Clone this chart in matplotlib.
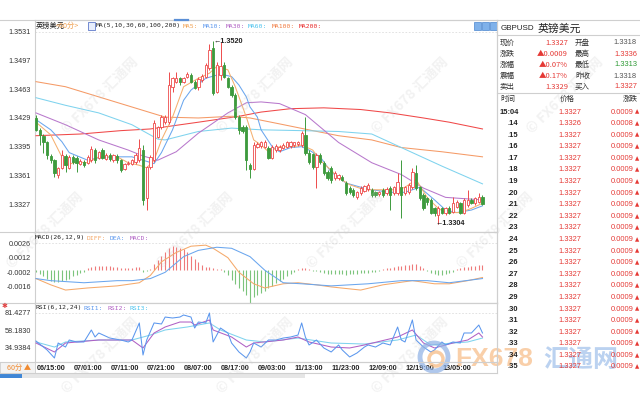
import matplotlib
matplotlib.use('Agg')
import matplotlib.pyplot as plt
from matplotlib.patches import Rectangle, Ellipse
from matplotlib.lines import Line2D

# ---------------- data ----------------
opens = [1.3429,1.3415,1.3408,1.3400,1.3384,1.3379,1.3362,1.3370,1.3384,1.3370,
         1.3383,1.3382,1.3375,1.3377,1.3376,1.3379,1.3391,1.3382,1.3391,1.3381,
         1.3385,1.3379,1.3384,1.3379,1.3369,1.3375,1.3375,1.3377,1.3379,1.3391,
         1.3334,1.3371,1.3379,1.3407,1.3418,1.3424,1.3424,1.3466,1.3472,1.3476,
         1.3472,1.3478,1.3480,1.3472,1.3466,1.3474,1.3478,1.3488,1.3512,1.3460,
         1.3480,1.3492,1.3476,1.3466,1.3456,1.3430,1.3418,1.3418,1.3373,1.3369,
         1.3395,1.3396,1.3395,1.3394,1.3382,1.3391,1.3391,1.3394,1.3395,1.3396,
         1.3397,1.3398,1.3397,1.3409,1.3388,1.3386,1.3371,1.3385,1.3376,1.3365,
         1.3370,1.3358,1.3358,1.3359,1.3352,1.3346,1.3344,1.3335,1.3340,1.3343,
         1.3345,1.3344,1.3341,1.3339,1.3344,1.3340,1.3346,1.3340,1.3340,1.3347,
         1.3340,1.3341,1.3347,1.3364,1.3347,1.3338,1.3334,1.3332,1.3322,1.3314,
         1.3322,1.3317,1.3323,1.3318,1.3324,1.3328,1.3317,1.3326,1.3332,1.3328,
         1.3330,1.3336]
highs = [1.3432,1.3417,1.3410,1.3402,1.3386,1.3381,1.3371,1.3391,1.3386,1.3385,
         1.3385,1.3384,1.3380,1.3379,1.3385,1.3396,1.3393,1.3390,1.3393,1.3387,
         1.3387,1.3386,1.3386,1.3381,1.3376,1.3378,1.3381,1.3387,1.3404,1.3397,
         1.3372,1.3385,1.3427,1.3420,1.3432,1.3432,1.3484,1.3478,1.3484,1.3478,
         1.3478,1.3484,1.3482,1.3474,1.3477,1.3481,1.3494,1.3516,1.3520,1.3495,
         1.3519,1.3495,1.3478,1.3468,1.3458,1.3432,1.3421,1.3421,1.3376,1.3400,
         1.3400,1.3402,1.3403,1.3396,1.3397,1.3398,1.3397,1.3399,1.3402,1.3402,
         1.3401,1.3402,1.3413,1.3430,1.3391,1.3388,1.3387,1.3387,1.3378,1.3367,
         1.3372,1.3366,1.3363,1.3361,1.3354,1.3348,1.3346,1.3343,1.3348,1.3350,
         1.3352,1.3346,1.3343,1.3342,1.3346,1.3347,1.3348,1.3349,1.3364,1.3379,
         1.3349,1.3352,1.3370,1.3373,1.3349,1.3340,1.3336,1.3334,1.3324,1.3325,
         1.3324,1.3324,1.3325,1.3335,1.3332,1.3330,1.3334,1.3344,1.3334,1.3336,
         1.3340,1.3338]
lows = [1.3413,1.3397,1.3388,1.3381,1.3376,1.3359,1.3358,1.3368,1.3365,1.3368,
        1.3374,1.3365,1.3373,1.3371,1.3374,1.3377,1.3376,1.3380,1.3380,1.3379,
        1.3378,1.3377,1.3376,1.3365,1.3367,1.3373,1.3373,1.3375,1.3377,1.3326,
        1.3320,1.3369,1.3377,1.3405,1.3416,1.3422,1.3422,1.3460,1.3470,1.3468,
        1.3470,1.3476,1.3470,1.3463,1.3462,1.3472,1.3476,1.3486,1.3456,1.3458,
        1.3474,1.3476,1.3464,1.3454,1.3428,1.3410,1.3411,1.3367,1.3358,1.3367,
        1.3393,1.3394,1.3393,1.3380,1.3380,1.3389,1.3389,1.3392,1.3393,1.3394,
        1.3395,1.3396,1.3395,1.3385,1.3375,1.3368,1.3346,1.3375,1.3362,1.3356,
        1.3352,1.3356,1.3356,1.3354,1.3338,1.3339,1.3336,1.3333,1.3338,1.3341,
        1.3343,1.3336,1.3336,1.3337,1.3336,1.3338,1.3320,1.3338,1.3338,1.3311,
        1.3338,1.3339,1.3345,1.3344,1.3332,1.3320,1.3326,1.3315,1.3313,1.3304,
        1.3315,1.3314,1.3315,1.3316,1.3322,1.3315,1.3315,1.3324,1.3327,1.3326,
        1.3328,1.3326]
closes = [1.3415,1.3409,1.3401,1.3385,1.3379,1.3364,1.3370,1.3385,1.3373,1.3383,
          1.3377,1.3376,1.3378,1.3373,1.3383,1.3392,1.3379,1.3389,1.3382,1.3385,
          1.3381,1.3385,1.3379,1.3367,1.3375,1.3376,1.3379,1.3385,1.3394,1.3332,
          1.3371,1.3383,1.3423,1.3418,1.3430,1.3430,1.3468,1.3476,1.3476,1.3472,
          1.3476,1.3481,1.3472,1.3465,1.3475,1.3479,1.3492,1.3510,1.3458,1.3492,
          1.3491,1.3478,1.3466,1.3456,1.3430,1.3415,1.3413,1.3379,1.3369,1.3397,
          1.3398,1.3400,1.3400,1.3382,1.3395,1.3396,1.3395,1.3397,1.3400,1.3400,
          1.3400,1.3400,1.3411,1.3388,1.3377,1.3371,1.3385,1.3377,1.3364,1.3358,
          1.3355,1.3364,1.3362,1.3356,1.3340,1.3341,1.3338,1.3341,1.3346,1.3349,
          1.3350,1.3338,1.3338,1.3341,1.3338,1.3345,1.3338,1.3347,1.3353,1.3338,
          1.3347,1.3350,1.3365,1.3346,1.3334,1.3322,1.3329,1.3317,1.3317,1.3323,
          1.3317,1.3322,1.3317,1.3328,1.3330,1.3317,1.3332,1.3332,1.3328,1.3334,
          1.3335,1.3327]

# moving averages, read as (candle index, value) points
ma5_idx = [0,4,7,8,11,14,17,22,25,28,30,32,34,37,40,44,47,49,52,54,57,59,61,63,66,70,72,75,77,80,82,85,89,93,98,100,103,106,109,111,115,118,121]
ma5_val = [1.3424,1.3409,1.3383,1.3373,1.3377,1.3376,1.3383,1.3383,1.3376,1.3373,1.3370,1.3379,1.3403,1.3430,1.3466,1.3476,1.3482,1.3490,1.3486,1.3466,1.3430,1.3403,1.3397,1.3389,1.3395,1.3395,1.3397,1.3391,1.3379,1.3367,1.3358,1.3350,1.3344,1.3344,1.3344,1.3347,1.3356,1.3335,1.3322,1.3317,1.3317,1.3322,1.3328]
ma10_idx = [0,4,7,9,14,17,22,26,29,32,34,37,40,42,46,50,53,55,57,58,60,61,64,66,69,72,74,77,80,84,88,91,96,100,104,108,111,114,118,121]
ma10_val = [1.3427,1.3415,1.3401,1.3388,1.3379,1.3382,1.3383,1.3383,1.3379,1.3375,1.3388,1.3415,1.3450,1.3462,1.3476,1.3481,1.3478,1.3468,1.3454,1.3442,1.3430,1.3415,1.3395,1.3389,1.3394,1.3395,1.3391,1.3383,1.3365,1.3352,1.3347,1.3344,1.3341,1.3341,1.3347,1.3332,1.3320,1.3317,1.3320,1.3325]
ma30_idx = [0,8,17,25,29,33,38,44,52,57,61,66,73,82,91,99,105,111,121]
ma30_val = [1.3435,1.3421,1.3403,1.3391,1.3384,1.3379,1.3389,1.3411,1.3435,1.3447,1.3448,1.3446,1.3433,1.3400,1.3376,1.3362,1.3346,1.3335,1.3332]
ma60_idx = [0,8,17,26,33,35,44,53,61,72,82,91,99,110,121]
ma60_val = [1.3453,1.3444,1.3435,1.3421,1.3404,1.3403,1.3413,1.3417,1.3415,1.3414,1.3413,1.3410,1.3394,1.3372,1.3351]
ma100_idx = [0,8,17,26,35,44,53,58,66,75,82,91,99,110,121]
ma100_val = [1.3472,1.3466,1.3454,1.3442,1.3430,1.3429,1.3431,1.3429,1.3422,1.3414,1.3408,1.3403,1.3394,1.3389,1.3383]
ma200_idx = [0,12,23,31,44,55,61,69,78,88,96,105,112,121]
ma200_val = [1.3408,1.3410,1.3414,1.3416,1.3424,1.3431,1.3436,1.3440,1.3441,1.3439,1.3435,1.3429,1.3424,1.3416]

macd_hist = [-0.0002,-0.0004,-0.0006,-0.0008,-0.0010,-0.0011,-0.0011,-0.0010,-0.0009,-0.0008,
             -0.0006,-0.0005,-0.0003,-0.0002,0.0002,0.0003,0.0004,0.0004,0.0004,0.0004,
             0.0004,0.0003,0.0003,0.0002,0.0002,0.0002,0.0002,0.0003,0.0003,-0.0002,
             -0.0001,0.0001,0.0006,0.0010,0.0014,0.0017,0.0021,0.0023,0.0022,0.0021,
             0.0020,0.0017,0.0014,0.0011,0.0008,0.0005,0.0003,0.0003,0.0002,0.0001,
             0.0001,-0.0002,-0.0005,-0.0009,-0.0013,-0.0017,-0.0020,-0.0024,-0.0032,-0.0026,
             -0.0024,-0.0022,-0.0020,-0.0017,-0.0015,-0.0012,-0.0010,-0.0008,-0.0006,-0.0004,
             -0.0002,0.0001,0.0002,0.0002,0.0001,-0.0001,-0.0001,-0.0002,-0.0003,-0.0004,
             -0.0004,-0.0004,-0.0004,-0.0004,-0.0005,-0.0004,-0.0004,-0.0004,-0.0003,-0.0003,
             -0.0003,-0.0002,-0.0002,-0.0001,0.0001,0.0002,0.0002,0.0003,0.0004,0.0004,
             0.0005,0.0005,0.0006,0.0006,0.0004,0.0002,-0.0001,-0.0003,-0.0004,-0.0005,
             -0.0005,-0.0004,-0.0003,-0.0002,0.0001,0.0002,0.0003,0.0003,0.0004,0.0004,
             0.0005,0.0005]
diff_idx = [0,4,8,14,22,28,31,34,38,42,46,48,52,55,59,62,67,71,76,80,88,94,102,108,112,117,121]
diff_val = [-0.0008,-0.0014,-0.0019,-0.0017,-0.0015,-0.0012,-0.0005,0.0008,0.0017,0.0023,0.0024,0.0021,0.0012,-0.0002,-0.0013,-0.0017,-0.0013,-0.0012,-0.0014,-0.0016,-0.0019,-0.0014,-0.0010,-0.0013,-0.0013,-0.0010,-0.0007]
dea_idx = [0,4,13,22,26,31,35,40,44,49,53,58,62,67,72,80,90,99,106,112,121]
dea_val = [-0.0008,-0.0010,-0.0012,-0.0010,-0.0010,-0.0008,-0.0002,0.0013,0.0019,0.0022,0.0021,0.0013,0.0000,-0.0012,-0.0013,-0.0015,-0.0013,-0.0010,-0.0010,-0.0012,-0.0008]

rsi1_idx = [0,3,5,6,8,9,11,13,15,16,17,20,23,25,26,28,29,30,32,34,35,37,39,40,42,43,44,46,47,48,50,52,53,55,57,58,59,61,63,65,67,69,71,72,73,74,76,78,80,82,83,85,87,89,90,92,94,96,98,99,100,102,103,105,107,108,110,111,113,115,116,118,120,121]
rsi1_val = [43.1,30.9,19.9,40.4,34.9,44.5,41.8,41.8,58.2,48.6,54.1,47.2,44.5,41.8,44.5,67.8,24.0,44.5,67.8,66.4,75.9,74.6,75.9,78.7,75.9,60.9,69.1,67.8,81.4,41.8,60.9,54.1,40.4,28.1,19.9,28.1,40.4,34.9,44.5,44.5,47.2,48.6,51.3,67.8,48.6,37.7,44.5,33.6,28.1,37.7,30.9,21.3,26.8,34.9,37.7,34.9,40.4,37.7,62.3,44.5,41.8,71.9,44.5,34.9,28.1,30.9,41.8,37.7,41.8,40.4,54.1,54.1,65.0,54.1]
rsi2_idx = [0,5,8,17,26,29,32,35,39,42,43,47,48,53,57,59,67,71,74,80,85,89,98,102,105,108,113,117,120,121]
rsi2_val = [40.4,28.1,40.4,44.5,44.5,33.6,54.1,62.3,69.1,69.1,65.0,71.9,58.2,48.6,34.9,40.4,44.5,48.6,41.8,34.9,33.6,37.7,48.6,58.2,40.4,33.6,40.4,44.5,54.1,48.6]
rsi3_idx = [0,5,8,17,26,31,35,41,47,50,57,62,71,80,89,98,103,107,113,117,121]
rsi3_val = [41.8,34.9,41.8,44.5,44.5,51.3,58.2,62.3,67.8,58.2,44.5,41.8,47.2,40.4,39.0,44.5,51.3,37.7,40.4,41.8,47.2]

price_ticks = [1.3531, 1.3497, 1.3463, 1.3429, 1.3395, 1.3361, 1.3327]
macd_ticks = [0.0026, 0.0012, -0.0002, -0.0016]
rsi_ticks = [81.4277, 58.1830, 34.9384]
time_labels = ["06/15:00","07/01:00","07/11:00","07/21:00","08/07:00","08/17:00",
               "09/03:00","11/13:00","11/23:00","12/09:00","12/19:00","13/05:00"]
time_label_idx = [4,14,24,34,44,54,64,74,84,94,104,114]

info_labels_l = ["现价","涨跌","涨幅","震幅","卖出"]
info_values_l = ["1.3327","▲0.0009","▲0.07%","▲0.17%","1.3329"]
info_labels_r = ["开盘","最高","最低","昨收","买入"]
info_values_r = ["1.3318","1.3336","1.3313","1.3318","1.3327"]
info_colors_r = ["#555555","#e53935","#2e9a35","#555555","#e53935"]

tick_times = ["15:04",".14",".15",".16",".17",".18",".19",".20",".21",".22",".23",".24",
              ".25",".26",".27",".28",".29",".30",".31",".32",".33",".34",".35"]
tick_prices = ["1.3327","1.3326","1.3327","1.3327","1.3327","1.3327","1.3327","1.3327",
               "1.3327","1.3327","1.3327","1.3327","1.3327","1.3327","1.3327","1.3327",
               "1.3327","1.3327","1.3327","1.3327","1.3327","1.3327","1.3327"]
tick_changes = ["0.0009","0.0008","0.0009","0.0009","0.0009","0.0009","0.0009","0.0009",
                "0.0009","0.0009","0.0009","0.0009","0.0009","0.0009","0.0009","0.0009",
                "0.0009","0.0009","0.0009","0.0009","0.0009","0.0009","0.0009"]

# ---------------- styling helpers ----------------
W, H = 640, 400
fig = plt.figure(figsize=(6.4, 4.0), dpi=100)
fig.patch.set_facecolor('white')

CJK = ['Noto Sans CJK SC', 'DejaVu Sans']
NUM = ['Liberation Sans', 'DejaVu Sans']
MONO = ['DejaVu Sans Mono', 'Noto Sans CJK SC']
GRID = '#cfcfcf'
RED = '#ee4b4b'
GREEN = '#3d9a3d'

def fx(x): return x / W
def fy(y): return 1 - y / H
def rect(l, t, r, b): return [l / W, 1 - b / H, (r - l) / W, (b - t) / H]
def ptext(x, y, s, **kw):
    kw.setdefault('va', 'center')
    return fig.text(fx(x), fy(y), s, **kw)
def hline(y, x0, x1, color=GRID, lw=0.8, **kw):
    fig.add_artist(Line2D([fx(x0), fx(x1)], [fy(y), fy(y)], color=color, lw=lw, **kw))
def vline(x, y0, y1, color=GRID, lw=0.8):
    fig.add_artist(Line2D([fx(x), fx(x)], [fy(y0), fy(y1)], color=color, lw=lw))

XMIN, XMAX = -0.27, 124.93

def style(ax, ticks, labels, ylim):
    ax.set_xlim(XMIN, XMAX)
    ax.set_ylim(*ylim)
    ax.set_yticks(ticks)
    ax.set_yticklabels(labels, fontsize=5.2, color='#333333', family=NUM)
    ax.tick_params(axis='y', length=0, pad=3)
    ax.set_xticks([])
    for s in ax.spines.values():
        s.set_color(GRID)
        s.set_linewidth(0.8)
    ax.axhline(ticks[0], color='#dddddd', lw=0.6, ls=(0, (2, 2)), zorder=0)

# ---------------- main candlestick panel ----------------
ax = fig.add_axes(rect(35, 20, 497, 232))
style(ax, price_ticks, [f"{t:.4f}" for t in price_ticks], (1.3294, 1.3545))

ma_sets = [(ma200_idx, ma200_val, '#f04848'), (ma100_idx, ma100_val, '#f59a66'),
           (ma60_idx, ma60_val, '#7fd3ee'), (ma30_idx, ma30_val, '#b878cc'),
           (ma10_idx, ma10_val, '#6aa6ee'), (ma5_idx, ma5_val, '#f5b070')]
for idx, val, c in ma_sets:
    ax.plot(idx, val, color=c, lw=0.75, zorder=3)

for i, (o, h, l, c) in enumerate(zip(opens, highs, lows, closes)):
    up = c >= o
    col = RED if up else GREEN
    ax.vlines(i, l, h, color=col, lw=0.7, zorder=4)
    body = max(abs(c - o), 0.00005)
    ax.bar(i, body, bottom=min(o, c), width=0.62,
           facecolor='white' if up else col, edgecolor=col, linewidth=0.6, zorder=5)

hi_i = max(range(len(highs)), key=lambda k: highs[k])
lo_i = min(range(len(lows)), key=lambda k: lows[k])
ax.text(hi_i + 0.1, highs[hi_i], f"←{highs[hi_i]:.4f}", fontsize=5.2, family=NUM,
        weight='bold', color='#222222', va='center', ha='left', zorder=6)
ax.text(lo_i - 0.6, lows[lo_i], f"←{lows[lo_i]:.4f}", fontsize=5.2, family=NUM,
        weight='bold', color='#222222', va='center', ha='left', zorder=6)

# ---------------- MACD panel ----------------
ax2 = fig.add_axes(rect(35, 232, 497, 303))
style(ax2, macd_ticks, [f"{t:.4f}" for t in macd_ticks], (-0.00314, 0.00366))
for i, v in enumerate(macd_hist):
    ax2.vlines(i, 0, v, color='#ee7a7a' if v > 0 else '#7cc47c', lw=0.8, zorder=2)
ax2.plot(diff_idx, diff_val, color='#f5a96a', lw=0.75, zorder=3)
ax2.plot(dea_idx, dea_val, color='#6aa6ee', lw=0.75, zorder=3)

# ---------------- RSI panel ----------------
ax3 = fig.add_axes(rect(35, 303, 497, 362))
style(ax3, rsi_ticks, [f"{t:.4f}" for t in rsi_ticks], (14.43, 95.1))
ax3.plot(rsi3_idx, rsi3_val, color='#7fd3ee', lw=0.75, zorder=2)
ax3.plot(rsi2_idx, rsi2_val, color='#b060c4', lw=0.75, zorder=3)
ax3.plot(rsi1_idx, rsi1_val, color='#5b97ee', lw=0.75, zorder=4)
ax3.set_xticks(time_label_idx)
ax3.set_xticklabels(time_labels, fontsize=5.2, family=NUM, weight='bold', color='#222222')
ax3.tick_params(axis='x', length=0, pad=2.2)

# ---------------- frame lines ----------------
hline(20, 0, 640)
hline(232, 0, 497)
hline(303, 0, 497)
hline(362, 0, 497)
hline(373, 0, 497)
vline(497, 20, 373)
hline(20, 175, 188, color='#5b8fd6', lw=1.6)

# time-frame box
fig.add_artist(Rectangle((fx(0), fy(373)), fx(35), 11 / H, transform=fig.transFigure,
                         facecolor='#f3f3f3', edgecolor=GRID, lw=0.6))
ptext(7, 367.5, "60分 ▲", fontsize=5.2, color='#f08a30', family=CJK)
# toolbar strip
fig.add_artist(Rectangle((fx(0), fy(378)), fx(305), 4 / H, transform=fig.transFigure,
                         facecolor='#e6e6e6', edgecolor='none'))
fig.add_artist(Rectangle((fx(0), fy(378)), fx(22), 4 / H, transform=fig.transFigure,
                         facecolor='#3f86d6', edgecolor='none'))
# small buttons top right of chart
for bx in (474, 482, 490):
    fig.add_artist(Rectangle((fx(bx), fy(30)), 7 / W, 8 / H, transform=fig.transFigure,
                             facecolor='#7fb1ea', edgecolor='#4a86d0', lw=0.5))

# ---------------- legends ----------------
ptext(36, 26, "英镑美元", fontsize=5.2, color='#222222', family=CJK)
ptext(56, 26, "<60分>", fontsize=5.2, color='#f0a050', family=CJK)
fig.add_artist(Rectangle((fx(88), fy(30)), 7 / W, 8 / H, transform=fig.transFigure,
                         facecolor='#e8eefc', edgecolor='#4060c0', lw=0.5))
ptext(96, 26, "MA(5,10,30,60,100,200)", fontsize=4.6, color='#222222', family=MONO)
for x, s, c in [(183, "MA5:", '#f0a050'), (203, "MA10:", '#5b97ee'), (226, "MA30:", '#b060c4'),
                (248, "MA60:", '#4cc3ee'), (272, "MA100:", '#f07a40'), (299, "MA200:", '#e82828')]:
    ptext(x, 26, s, fontsize=4.6, color=c, family=MONO)

ptext(35, 238, "MACD(26,12,9)", fontsize=4.6, color='#222222', family=MONO)
for x, s, c in [(87, "DIFF:", '#f5a96a'), (110, "DEA:", '#5b97ee'), (130, "MACD:", '#b060c4')]:
    ptext(x, 238, s, fontsize=4.6, color=c, family=MONO)
ptext(36, 308, "RSI(6,12,24)", fontsize=4.6, color='#222222', family=MONO)
for x, s, c in [(83, "RSI1:", '#5b97ee'), (107, "RSI2:", '#b060c4'), (130, "RSI3:", '#4cc3ee')]:
    ptext(x, 308, s, fontsize=4.6, color=c, family=MONO)
ptext(2, 306, "✱", fontsize=5, color='#e04040', family=['DejaVu Sans'])

# ---------------- watermarks ----------------
for (cx, cy) in [(100, 95), (255, 95), (410, 95), (565, 95),
                 (45, 230), (195, 230), (345, 230), (495, 230),
                 (100, 355), (255, 355), (410, 355)]:
    fig.text(fx(cx), fy(cy), "© FX678 汇通网", fontsize=10, color='#c4c4c4', alpha=0.22,
             family=CJK, rotation=45, ha='center', va='center', weight='bold', zorder=0.5)

# big logo bottom right
fig.add_artist(Ellipse((fx(434), fy(357)), 28 / W, 28 / H, transform=fig.transFigure,
                       facecolor='none', edgecolor='#8db0e4', lw=3.5, alpha=0.7, zorder=0.6))
fig.add_artist(Ellipse((fx(436), fy(359)), 14 / W, 14 / H, transform=fig.transFigure,
                       facecolor='none', edgecolor='#f6b77c', lw=2.5, alpha=0.7, zorder=0.6))
ptext(455, 359, "FX678", fontsize=19, color='#f7bb85', alpha=0.7, family=NUM,
      weight='bold', zorder=0.6)
ptext(543, 360, "汇通网", fontsize=18, color='#9fbfea', alpha=0.7, family=CJK,
      weight='bold', zorder=0.6)

# ---------------- right info panel ----------------
ptext(501, 29, "GBPUSD", fontsize=5.8, color='#222222', family=NUM)
ptext(538, 28.5, "英镑美元", fontsize=7.8, color='#222222', family=CJK)
hline(35, 497, 640)
for k in range(5):
    y = 43 + 11 * k
    ptext(500, y, info_labels_l[k], fontsize=5.4, color='#333333', family=CJK, zorder=3)
    ptext(568, y, info_values_l[k], fontsize=5.4, color='#e53935', family=CJK, ha='right', zorder=3)
    ptext(575, y, info_labels_r[k], fontsize=5.4, color='#333333', family=CJK, zorder=3)
    ptext(637, y, info_values_r[k], fontsize=5.4, color=info_colors_r[k], family=NUM,
          ha='right', zorder=3)
hline(93, 497, 640)
ptext(500, 99, "时间", fontsize=5.4, color='#333333', family=CJK, zorder=3)
ptext(567, 99, "价格", fontsize=5.4, color='#333333', family=CJK, ha='center', zorder=3)
ptext(638, 99, "涨跌", fontsize=5.4, color='#333333', family=CJK, ha='right', zorder=3)
for k in range(len(tick_times)):
    y = 112 + 11.59 * k
    ptext(500 if k == 0 else 508, y, tick_times[k], fontsize=5.4, color='#222222',
          family=NUM, weight='bold', zorder=3)
    ptext(570, y, tick_prices[k], fontsize=5.4, color='#e53935', family=NUM, ha='center', zorder=3)
    ptext(634, y, tick_changes[k], fontsize=5.4, color='#e53935', family=NUM, ha='right', zorder=3)
    ptext(634.5, y, "▲", fontsize=4, color='#e53935', family=['DejaVu Sans'], zorder=3)

fig.savefig('out.png', dpi=100, facecolor='white')
